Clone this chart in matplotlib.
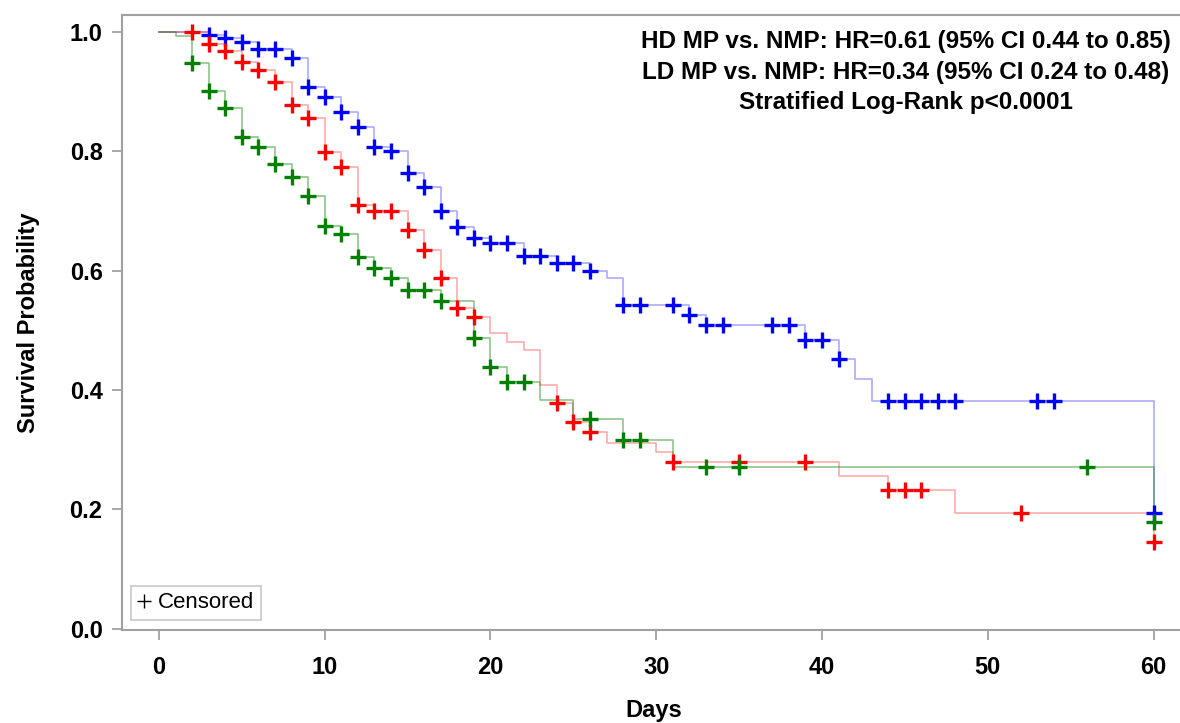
import numpy as np
import matplotlib
matplotlib.use("Agg")
import matplotlib.pyplot as plt
from matplotlib.lines import Line2D

plt.rcParams["font.family"] = ["Liberation Sans", "DejaVu Sans"]

# step curves (day of drop, survival after drop)
hd_days = [0, 3, 4, 5, 6, 8, 9, 10, 11, 12, 13, 14, 15, 16, 17, 18, 19, 20, 22, 24, 26, 27, 28, 32, 33, 39, 41, 42, 43, 60]
hd_surv = [1.0, 0.995, 0.99, 0.982, 0.971, 0.956, 0.907, 0.891, 0.866, 0.841, 0.807, 0.800, 0.764, 0.740, 0.699, 0.673,
           0.655, 0.646, 0.624, 0.612, 0.600, 0.587, 0.543, 0.526, 0.508, 0.484, 0.452, 0.419, 0.382, 0.194]

ld_days = [0, 3, 4, 5, 6, 7, 8, 9, 10, 11, 12, 13, 15, 16, 17, 18, 19, 20, 21, 22, 23, 24, 25, 26, 27, 30, 31, 41, 44, 48, 60]
ld_surv = [1.0, 0.980, 0.968, 0.949, 0.936, 0.916, 0.878, 0.856, 0.799, 0.774, 0.710, 0.700, 0.668, 0.634, 0.588, 0.537,
           0.522, 0.496, 0.481, 0.467, 0.409, 0.379, 0.347, 0.330, 0.312, 0.296, 0.280, 0.256, 0.233, 0.194, 0.146]

nmp_days = [0, 1, 2, 3, 4, 5, 6, 7, 8, 9, 10, 11, 12, 13, 14, 15, 17, 19, 20, 21, 23, 25, 28, 31, 60]
nmp_surv = [1.0, 0.992, 0.948, 0.900, 0.872, 0.824, 0.807, 0.779, 0.756, 0.725, 0.674, 0.662, 0.622, 0.605, 0.587, 0.568,
            0.549, 0.487, 0.439, 0.414, 0.384, 0.352, 0.317, 0.271, 0.179]

# censored marks
hd_cens_days = [3, 4, 5, 6, 7, 8, 9, 10, 11, 12, 13, 14, 15, 16, 17, 18, 19, 20, 21, 22, 23, 24, 25, 26, 28, 29, 31, 32,
                33, 34, 37, 38, 39, 40, 41, 44, 45, 46, 47, 48, 53, 54, 60]
hd_cens_surv = [0.995, 0.99, 0.982, 0.971, 0.971, 0.956, 0.907, 0.891, 0.866, 0.841, 0.807, 0.800, 0.764, 0.740, 0.699,
                0.673, 0.655, 0.646, 0.646, 0.624, 0.624, 0.612, 0.612, 0.600, 0.543, 0.543, 0.543, 0.526, 0.508, 0.508,
                0.508, 0.508, 0.484, 0.484, 0.452, 0.382, 0.382, 0.382, 0.382, 0.382, 0.382, 0.382, 0.194]

ld_cens_days = [2, 3, 4, 5, 6, 7, 8, 9, 10, 11, 12, 13, 14, 15, 16, 17, 18, 19, 24, 25, 26, 31, 35, 39, 44, 45, 46, 52, 60]
ld_cens_surv = [1.0, 0.980, 0.968, 0.949, 0.936, 0.916, 0.878, 0.856, 0.799, 0.774, 0.710, 0.700, 0.700, 0.668, 0.634,
                0.588, 0.537, 0.522, 0.379, 0.347, 0.330, 0.280, 0.280, 0.280, 0.233, 0.233, 0.233, 0.194, 0.146]

nmp_cens_days = [2, 3, 4, 5, 6, 7, 8, 9, 10, 11, 12, 13, 14, 15, 16, 17, 19, 20, 21, 22, 26, 28, 29, 33, 35, 56, 60]
nmp_cens_surv = [0.948, 0.900, 0.872, 0.824, 0.807, 0.779, 0.756, 0.725, 0.674, 0.662, 0.622, 0.605, 0.587, 0.568,
                 0.568, 0.549, 0.487, 0.439, 0.414, 0.414, 0.352, 0.317, 0.317, 0.271, 0.271, 0.271, 0.179]

stats_lines = ["HD MP vs. NMP: HR=0.61 (95% CI 0.44 to 0.85)",
               "LD MP vs. NMP: HR=0.34 (95% CI 0.24 to 0.48)",
               "Stratified Log-Rank p<0.0001"]

fig = plt.figure(figsize=(11.8, 7.23), dpi=100)
ax = fig.add_axes([122 / 1180, 1 - 630 / 723, 1063 / 1180, 615 / 723])

groups = [
    (hd_days, hd_surv, hd_cens_days, hd_cens_surv, "#0000ff", 0.33),
    (ld_days, ld_surv, ld_cens_days, ld_cens_surv, "#ff0000", 0.33),
    (nmp_days, nmp_surv, nmp_cens_days, nmp_cens_surv, "#008000", 0.45),
]
for days, surv, cd, cs, col, a in groups:
    ax.step(days, surv, where="post", color=col, alpha=a, linewidth=1.2)
for days, surv, cd, cs, col, a in groups:
    ax.plot(cd, cs, linestyle="none", marker="+", markersize=12, markeredgewidth=2.4, color=col)

ax.set_xlim(-2.23, 61.9)
ax.set_ylim(-0.002, 1.028)
ax.set_xticks(np.arange(0, 61, 10))
ax.set_yticks(np.arange(0, 1.01, 0.2))
ax.set_yticklabels([f"{v:.1f}" for v in np.arange(0, 1.01, 0.2)])

for s in ax.spines.values():
    s.set_color("#a0a0a0")
    s.set_linewidth(1.5)
ax.spines["right"].set_visible(False)
ax.tick_params(direction="out", length=7, width=1.3, color="#a0a0a0", labelsize=17)
ax.tick_params(axis="y", pad=7)
ax.tick_params(axis="x", pad=12)
for lab in ax.get_xticklabels() + ax.get_yticklabels():
    lab.set_fontweight("bold")

ax.set_xlabel("Days", fontsize=17, fontweight="bold", labelpad=14)
ax.set_ylabel("Survival Probability", fontsize=17, fontweight="bold", labelpad=21)

ax.text(0.7376, 0.975, "\n".join(stats_lines), transform=ax.transAxes, ha="center", va="top",
        multialignment="center", fontsize=17.5, fontweight="bold", linespacing=1.4)

handle = Line2D([], [], linestyle="none", marker="+", color="black", markersize=10, markeredgewidth=1.0)
leg = ax.legend([handle], ["Censored"], loc="lower left", bbox_to_anchor=(0.0085, 0.016), borderaxespad=0,
                fontsize=16, handlelength=0.6, handletextpad=0.3, borderpad=0.3, fancybox=False, framealpha=1)
leg.get_frame().set_edgecolor("#c8c8c8")
leg.get_frame().set_linewidth(1.2)

fig.savefig("out.png", dpi=100)
